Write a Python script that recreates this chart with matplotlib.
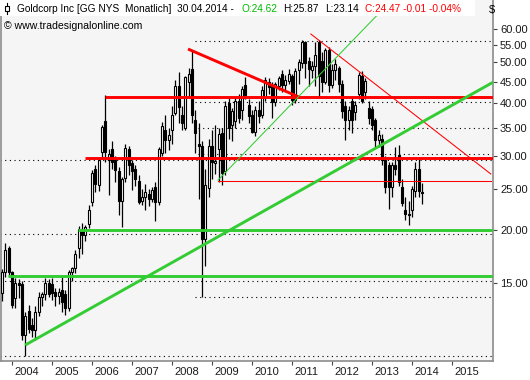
import numpy as np
import matplotlib.pyplot as plt
from matplotlib.transforms import ScaledTranslation

# monthly candles, Oct 2003 .. Apr 2014
first_month = 2003.75

opens = [14.2, 15.9, 18.2,
         15.9, 13.8, 15.0, 14.9, 11.3, 12.9, 11.9, 11.6, 12.8, 13.9, 14.1, 15.0,
         14.9, 14.3, 14.0, 14.4, 14.1, 13.1, 15.9, 16.3, 18.2, 20.0, 19.5, 20.7,
         23.3, 27.9, 25.6, 30.6, 36.4, 29.4, 31.2, 29.4, 27.6, 23.5, 26.6, 31.1,
         28.8, 28.0, 26.2, 23.5, 24.0, 24.4, 23.7, 25.4, 23.3, 30.5, 34.6, 32.8,
         34.6, 38.0, 43.9, 37.6, 35.0, 45.0, 48.2, 36.6, 32.0, 31.6, 19.1, 25.2,
         31.6, 28.8, 31.1, 34.0, 27.6, 40.0, 35.5, 36.4, 40.6, 38.5, 44.2, 39.7,
         37.5, 34.2, 38.6, 37.5, 41.5, 45.0, 44.2, 40.3, 44.0, 47.0, 44.2, 45.3,
         46.5, 40.8, 48.0, 49.8, 55.8, 50.3, 47.9, 49.0, 56.0, 50.5, 45.0, 53.5,
         44.2, 48.0, 48.5, 44.4, 39.5, 36.6, 40.5, 38.2, 42.0, 46.5, 42.5, 39.0,
         38.8, 36.6, 32.8, 33.0, 29.4, 28.5, 25.3, 28.5, 30.2, 25.3, 22.3, 21.9,
         22.3, 24.8, 27.9, 24.62]
highs = [16.2, 18.7, 18.4,
         16.0, 15.4, 15.3, 15.2, 12.8, 13.3, 12.4, 13.2, 14.3, 14.3, 15.4, 15.3,
         15.4, 14.6, 14.6, 15.6, 14.4, 16.1, 16.4, 18.0, 20.5, 20.8, 20.6, 22.9,
         27.8, 28.6, 29.8, 35.6, 41.9, 31.2, 32.5, 30.0, 28.3, 26.8, 32.0, 31.6,
         29.3, 28.5, 27.0, 25.0, 25.8, 25.0, 25.3, 26.0, 31.5, 36.2, 37.5, 35.0,
         39.5, 45.5, 47.5, 39.5, 46.5, 48.5, 53.4, 38.5, 36.0, 32.5, 28.0, 33.0,
         34.5, 35.5, 35.0, 35.0, 40.5, 41.5, 39.0, 41.5, 42.0, 44.0, 46.3, 41.0,
         38.5, 39.5, 40.5, 44.0, 46.3, 46.0, 45.0, 45.0, 46.5, 48.0, 46.8, 48.3,
         47.0, 48.5, 51.0, 56.5, 56.3, 51.5, 50.5, 56.0, 56.6, 53.0, 54.0, 54.5,
         49.5, 51.0, 49.0, 45.5, 40.5, 39.5, 41.5, 40.5, 47.5, 47.8, 46.0, 40.5,
         39.5, 37.0, 34.5, 33.8, 30.0, 29.0, 29.0, 31.5, 31.8, 26.5, 24.0, 23.5,
         25.5, 29.0, 29.5, 25.87]
lows = [13.6, 15.5, 15.5,
        13.1, 13.1, 13.8, 11.0, 10.07, 11.4, 11.2, 11.0, 12.5, 13.2, 13.7, 13.9,
        13.7, 13.2, 13.4, 12.8, 12.6, 12.9, 15.2, 15.8, 17.2, 17.6, 18.9, 20.2,
        22.8, 24.6, 24.8, 29.5, 29.0, 24.2, 27.9, 26.0, 21.8, 20.4, 26.0, 27.0,
        24.9, 25.5, 23.1, 23.0, 22.4, 22.8, 23.3, 21.0, 23.0, 30.0, 30.5, 31.0,
        32.0, 37.5, 36.0, 34.5, 34.5, 41.5, 36.0, 30.5, 23.7, 13.9, 16.5, 24.0,
        26.5, 27.2, 26.0, 25.6, 27.0, 33.0, 32.5, 35.0, 36.0, 36.5, 41.0, 36.0,
        34.0, 33.5, 36.0, 37.0, 40.5, 42.0, 37.0, 39.5, 43.0, 42.5, 43.0, 44.5,
        39.6, 40.0, 44.5, 48.5, 46.0, 44.0, 46.0, 44.0, 41.5, 42.5, 44.5, 42.5,
        43.5, 45.5, 42.5, 37.0, 32.8, 34.5, 34.0, 36.5, 41.0, 40.0, 41.0, 35.8,
        34.5, 31.5, 31.5, 28.5, 24.5, 22.5, 24.0, 27.0, 25.5, 22.8, 21.2, 20.6,
        21.5, 24.0, 24.0, 23.14]
closes = [15.9, 18.0, 15.9,
          13.3, 15.0, 14.8, 11.3, 12.5, 11.7, 11.6, 12.8, 13.9, 14.1, 15.0, 14.1,
          14.2, 14.0, 14.3, 13.5, 13.1, 15.9, 16.3, 17.6, 20.1, 19.5, 20.4, 22.4,
          27.3, 25.7, 29.4, 35.2, 30.6, 30.3, 29.0, 27.8, 23.5, 26.4, 31.3, 28.6,
          27.6, 26.4, 23.3, 24.0, 24.6, 23.7, 24.9, 23.3, 31.1, 35.3, 32.8, 33.7,
          37.6, 43.9, 39.3, 36.0, 46.2, 47.0, 37.6, 34.0, 31.6, 19.1, 25.6, 31.6,
          29.0, 29.2, 33.9, 27.3, 39.5, 35.0, 38.3, 40.6, 37.0, 43.2, 41.9, 37.3,
          34.2, 38.5, 37.3, 43.0, 45.4, 43.8, 40.3, 44.5, 45.9, 44.2, 45.5, 46.9,
          40.8, 47.8, 50.0, 55.8, 49.8, 48.2, 49.0, 52.0, 46.4, 45.0, 53.4, 44.2,
          48.0, 49.5, 44.4, 38.3, 36.6, 38.5, 36.5, 39.6, 46.8, 40.6, 45.3, 37.0,
          35.6, 32.8, 33.7, 29.4, 25.4, 25.3, 28.5, 28.0, 26.1, 23.2, 21.9, 21.7,
          25.0, 27.9, 24.8, 24.47]

# drawn lines: (start year, start price, end year, end price)
red_thick = [(2006.33, 41.5, 2016.1, 41.5),
             (2005.83, 29.7, 2016.1, 29.7),
             (2008.40, 53.8, 2011.20, 41.3)]
red_thin = [(2009.15, 26.2, 2015.97, 26.2),
            (2011.47, 58.4, 2015.97, 27.2)]
green_thick = [(2005.65, 20.0, 2016.1, 20.0),
               (2003.90, 15.6, 2016.1, 15.6),
               (2004.33, 10.69, 2016.03, 44.9)]
green_thin = [(2009.15, 26.3, 2013.6, 72.0)]
# dotted levels: (start year, price)
dotted = [(2008.58, 56.3), (2008.58, 40.3), (2008.65, 35.0), (2008.65, 30.3),
          (2003.70, 29.3), (2003.70, 19.6), (2003.70, 15.2), (2008.58, 13.9),
          (2003.70, 10.07)]

years = list(range(2004, 2016))
price_ticks = [15, 20, 25, 30, 35, 40, 45, 50, 55, 60]

t = first_month + np.arange(len(closes)) / 12.0
o = np.array(opens)
h = np.array(highs)
l = np.array(lows)
c = np.array(closes)

fig = plt.figure(figsize=(5.3, 3.8), dpi=100)
ax = fig.add_axes([1 / 530, 19 / 380, 492 / 530, 361 / 380])
ax.set_facecolor('#f5f5f5')
ax.set_yscale('log')
ax.set_xlim(2003.725, 2016.025)
ax.set_ylim(9.80, 70.3)

for x0, p in dotted:
    ax.plot([x0, 2016.1], [p, p], color='black', lw=0.8,
            linestyle=(0, (1, 3.2)), zorder=1)

# candles
ax.vlines(t, l, h, color='black', lw=0.9, zorder=3)
up = c >= o
body_lo = np.minimum(o, c)
body_hi = np.maximum(o, c)
ax.bar(t, body_hi - body_lo, bottom=body_lo, width=0.055,
       color=np.where(up, 'white', 'black'), edgecolor='black',
       linewidth=0.8, zorder=4)

for x0, y0, x1, y1 in red_thick:
    ax.plot([x0, x1], [y0, y1], color='#ff0000', lw=2.1, zorder=5,
            solid_capstyle='butt')
for x0, y0, x1, y1 in red_thin:
    ax.plot([x0, x1], [y0, y1], color='#ff0000', lw=0.75, zorder=5)
for x0, y0, x1, y1 in green_thick:
    ax.plot([x0, x1], [y0, y1], color='#33cc33', lw=2.1, zorder=5,
            solid_capstyle='butt')
for x0, y0, x1, y1 in green_thin:
    ax.plot([x0, x1], [y0, y1], color='#33cc33', lw=0.75, zorder=5)

# axes look
ax.spines['top'].set_visible(False)
for side in ['left', 'right', 'bottom']:
    ax.spines[side].set_color('#8c8c8c')
    ax.spines[side].set_linewidth(1.2)

ax.yaxis.tick_right()
ax.set_yticks(price_ticks)
ax.set_yticklabels(['%.2f' % v for v in price_ticks])
ax.yaxis.set_minor_locator(plt.NullLocator())
ax.tick_params(axis='y', length=3, width=0.8, color='#444444', pad=2,
               labelsize=8, labelcolor='#1a1a1a')

ax.set_xticks(years)
ax.set_xticklabels([str(y) for y in years])
ax.tick_params(axis='x', length=3, width=0.8, color='#444444', pad=1.5,
               labelsize=8, labelcolor='#1a1a1a')
offset = ScaledTranslation(2 / 72, 0, fig.dpi_scale_trans)
for lab in ax.get_xticklabels():
    lab.set_horizontalalignment('left')
    lab.set_transform(lab.get_transform() + offset)

for lab in ax.get_xticklabels() + ax.get_yticklabels():
    lab.set_fontfamily('Liberation Sans')

# header
fig.patches.append(plt.Rectangle((0, 1 - 16 / 380), 475 / 530, 16 / 380,
                                 transform=fig.transFigure, facecolor='white',
                                 edgecolor='none', zorder=10))
fig.add_artist(plt.Line2D([7 / 530, 7 / 530], [1 - 3 / 380, 1 - 14 / 380],
                          transform=fig.transFigure, color='black', lw=0.8,
                          zorder=11))
fig.patches.append(plt.Rectangle((5 / 530, 1 - 11 / 380), 4 / 530, 5 / 380,
                                 transform=fig.transFigure, facecolor='white',
                                 edgecolor='black', lw=0.8, zorder=12))
hdr_y = 1 - 8.5 / 380
pieces = [(17, 'Goldcorp Inc [GG NYS  Monatlich]', 'black'),
          (177, '30.04.2014 -', 'black'),
          (241, 'O:24.62', '#00bb00'),
          (283, 'H:25.87', 'black'),
          (325, 'L:23.14', 'black'),
          (365, 'C:24.47 -0.01 -0.04%', '#ff0000')]
for px, s, col in pieces:
    fig.text(px / 530, hdr_y, s, color=col, fontsize=7.3,
             family='Liberation Sans', va='center', ha='left', zorder=13)
fig.text(4 / 530, 1 - 26 / 380, '\u00a9 www.tradesignalonline.com',
         color='black', fontsize=7.6, family='Liberation Sans',
         va='center', ha='left', zorder=13)
fig.text(492 / 530, 1 - 10 / 380, '$', color='black', fontsize=8,
         family='Liberation Sans', va='center', ha='center')

fig.savefig('out.png', dpi=100, facecolor='white')
